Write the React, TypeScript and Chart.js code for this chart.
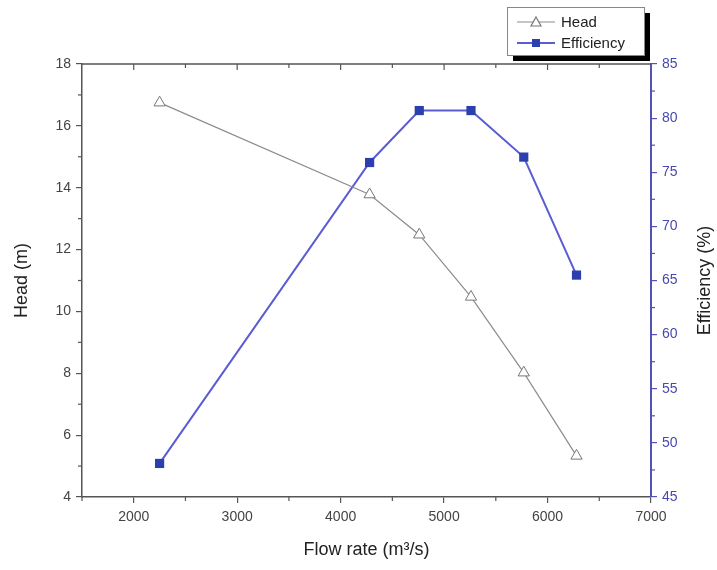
import React, { useEffect, useRef } from "react";
import { Chart, registerables } from "chart.js";

Chart.register(...registerables);

const flowRate = [2250, 4280, 4760, 5260, 5770, 6280];
const headValues = [16.75, 13.78, 12.48, 10.47, 8.02, 5.33];
const efficiencyValues = [48.1, 75.9, 80.7, 80.7, 76.4, 65.5];
const xTickValues = [2000, 3000, 4000, 5000, 6000, 7000];

const xTitle = "Flow rate (m\u00B3/s)";
const yLeftTitle = "Head (m)";
const yRightTitle = "Efficiency (%)";
const legendLabels = ["Head", "Efficiency"];

const AXIS_GRAY = "#555555";
const TEXT_GRAY = "#444444";
const BLUE_AXIS = "#5252b8";
const BLUE_TEXT = "#4848b0";
const HEAD_LINE = "#8c8c8c";
const EFF_LINE = "#5c5cd2";
const EFF_MARK = "#2b3fae";
const FONT = "'Liberation Sans', Arial, sans-serif";

const decorPlugin = {
  id: "decor",
  afterDraw(chart: any) {
    const ctx = chart.ctx;
    const { left, right, top, bottom } = chart.chartArea;
    const xs = chart.scales.x;
    const yl = chart.scales.y;
    const yr = chart.scales.y1;
    ctx.save();
    // top axis line
    ctx.strokeStyle = AXIS_GRAY;
    ctx.lineWidth = 1.5;
    ctx.beginPath();
    ctx.moveTo(left, top);
    ctx.lineTo(right, top);
    ctx.stroke();
    ctx.lineWidth = 1.2;
    // x minor ticks and top ticks
    for (let v = 1500; v <= 7000; v += 500) {
      const px = xs.getPixelForValue(v);
      const major = v % 1000 === 0;
      if (!major) {
        ctx.beginPath();
        ctx.moveTo(px, bottom);
        ctx.lineTo(px, bottom + 4);
        ctx.stroke();
      }
      if (v > 1500 && v < 7000) {
        ctx.beginPath();
        ctx.moveTo(px, top);
        ctx.lineTo(px, top + (major ? 6 : 4));
        ctx.stroke();
      }
    }
    // left minor ticks
    for (let v = 5; v < 18; v += 2) {
      const py = yl.getPixelForValue(v);
      ctx.beginPath();
      ctx.moveTo(left - 4, py);
      ctx.lineTo(left, py);
      ctx.stroke();
    }
    // right minor ticks
    ctx.strokeStyle = BLUE_AXIS;
    for (let v = 47.5; v < 85; v += 5) {
      const py = yr.getPixelForValue(v);
      ctx.beginPath();
      ctx.moveTo(right, py);
      ctx.lineTo(right + 4, py);
      ctx.stroke();
    }

    // axis titles
    ctx.fillStyle = "#222222";
    ctx.font = `18px ${FONT}`;
    ctx.textAlign = "center";
    ctx.textBaseline = "middle";
    ctx.fillText(xTitle, (left + right) / 2, 550);
    ctx.save();
    ctx.translate(22, (top + bottom) / 2);
    ctx.rotate(-Math.PI / 2);
    ctx.fillText(yLeftTitle, 0, 0);
    ctx.restore();
    ctx.save();
    ctx.translate(705, (top + bottom) / 2);
    ctx.rotate(-Math.PI / 2);
    ctx.fillText(yRightTitle, 0, 0);
    ctx.restore();

    // legend box with shadow
    const bx = 507, by = 7, bw = 137, bh = 48;
    ctx.fillStyle = "#000000";
    ctx.fillRect(bx + 6, by + 6, bw, bh);
    ctx.fillStyle = "#ffffff";
    ctx.fillRect(bx, by, bw, bh);
    ctx.strokeStyle = "#888888";
    ctx.lineWidth = 1;
    ctx.strokeRect(bx + 0.5, by + 0.5, bw, bh);

    const rows = [22, 43];
    // Head entry
    ctx.strokeStyle = HEAD_LINE;
    ctx.lineWidth = 1.2;
    ctx.beginPath();
    ctx.moveTo(517, rows[0]);
    ctx.lineTo(555, rows[0]);
    ctx.stroke();
    ctx.fillStyle = "#ffffff";
    ctx.strokeStyle = "#777777";
    ctx.beginPath();
    ctx.moveTo(536, rows[0] - 5);
    ctx.lineTo(541, rows[0] + 4);
    ctx.lineTo(531, rows[0] + 4);
    ctx.closePath();
    ctx.fill();
    ctx.stroke();
    // Efficiency entry
    ctx.strokeStyle = EFF_LINE;
    ctx.lineWidth = 2;
    ctx.beginPath();
    ctx.moveTo(517, rows[1]);
    ctx.lineTo(555, rows[1]);
    ctx.stroke();
    ctx.fillStyle = EFF_MARK;
    ctx.fillRect(532, rows[1] - 4, 8, 8);

    ctx.fillStyle = "#222222";
    ctx.font = `15px ${FONT}`;
    ctx.textAlign = "left";
    ctx.fillText(legendLabels[0], 561, rows[0] + 1);
    ctx.fillText(legendLabels[1], 561, rows[1] + 1);
    ctx.restore();
  },
};

export default function App() {
  const ref = useRef<HTMLCanvasElement | null>(null);
  useEffect(() => {
    document.body.style.margin = "0";
    const canvas = ref.current;
    if (!canvas) return;
    const chart = new Chart(canvas, {
      type: "scatter",
      data: {
        datasets: [
          {
            label: legendLabels[0],
            data: flowRate.map((x, i) => ({ x, y: headValues[i] })),
            yAxisID: "y",
            showLine: true,
            borderColor: HEAD_LINE,
            borderWidth: 1.2,
            pointStyle: "triangle",
            pointRadius: 6.5,
            pointBackgroundColor: "#ffffff",
            pointBorderColor: "#777777",
            pointBorderWidth: 1,
          },
          {
            label: legendLabels[1],
            data: flowRate.map((x, i) => ({ x, y: efficiencyValues[i] })),
            yAxisID: "y1",
            showLine: true,
            borderColor: EFF_LINE,
            borderWidth: 2,
            pointStyle: "rect",
            pointRadius: 6.5,
            pointBackgroundColor: EFF_MARK,
            pointBorderColor: EFF_MARK,
            pointBorderWidth: 0,
          },
        ],
      },
      options: {
        animation: false,
        responsive: true,
        maintainAspectRatio: false,
        layout: { padding: { top: 64, left: 0, right: 0, bottom: 0 } },
        plugins: { legend: { display: false }, tooltip: { enabled: false } },
        scales: {
          x: {
            type: "linear",
            min: 1500,
            max: 7000,
            afterBuildTicks: (s: any) => {
              s.ticks = xTickValues.map((v) => ({ value: v }));
            },
            afterFit: (s: any) => {
              s.height = 73;
            },
            ticks: {
              color: TEXT_GRAY,
              font: { size: 14, family: FONT },
              padding: 6,
              maxRotation: 0,
              callback: (v: any) => String(v),
            },
            grid: { drawOnChartArea: false, drawTicks: true, tickLength: 6, color: AXIS_GRAY, lineWidth: 1.2 },
            border: { display: true, color: AXIS_GRAY, width: 1.5 },
          },
          y: {
            type: "linear",
            position: "left",
            min: 4,
            max: 18,
            ticks: { stepSize: 2, color: TEXT_GRAY, font: { size: 14, family: FONT }, padding: 5 },
            afterFit: (s: any) => {
              s.width = 82;
            },
            grid: { drawOnChartArea: false, drawTicks: true, tickLength: 6, color: AXIS_GRAY, lineWidth: 1.2 },
            border: { display: true, color: AXIS_GRAY, width: 1.5 },
          },
          y1: {
            type: "linear",
            position: "right",
            min: 45,
            max: 85,
            ticks: { stepSize: 5, color: BLUE_TEXT, font: { size: 14, family: FONT }, padding: 5 },
            afterFit: (s: any) => {
              s.width = 66;
            },
            grid: { drawOnChartArea: false, drawTicks: true, tickLength: 6, color: BLUE_AXIS, lineWidth: 1.2 },
            border: { display: true, color: BLUE_AXIS, width: 2 },
          },
        },
      },
      plugins: [decorPlugin],
    });
    return () => chart.destroy();
  }, []);
  return (
    <div style={{ position: "fixed", left: 0, top: 0, width: 717, height: 570, background: "#ffffff" }}>
      <canvas ref={ref} />
    </div>
  );
}
